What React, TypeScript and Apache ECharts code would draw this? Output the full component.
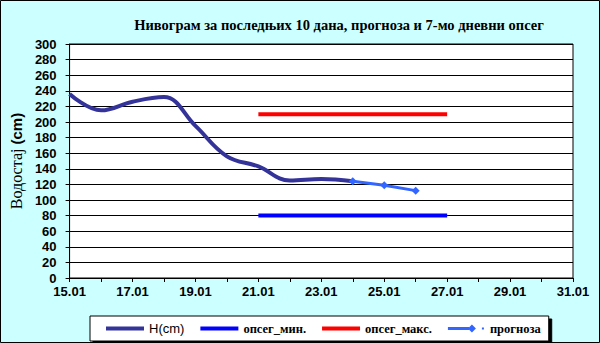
import React, { useEffect, useRef } from "react";
import * as echarts from "echarts";

const dayLabels = ["15.01", "16.01", "17.01", "18.01", "19.01", "20.01", "21.01", "22.01", "23.01", "24.01", "25.01", "26.01", "27.01", "28.01", "29.01", "30.01", "31.01"];
const levelDays = [0, 1, 2, 3, 4, 5, 6, 7, 8, 9];
const levelValues = [236, 215, 226, 232, 195, 156, 143, 125, 127, 124];
const rangeDays = [6, 12];
const rangeMin = [80, 80];
const rangeMax = [210, 210];
const forecastDays = [9, 10, 11];
const forecastValues = [124, 119, 112];

const serif = "'Liberation Serif', 'Times New Roman', serif";
const sans = "'Liberation Sans', Arial, sans-serif";

const lineIcon = "path://M0,2h36v4h-36z";
const forecastIcon = "path://M0,2.5h21v3h-21zM24,0L28,4L24,8L20,4ZM34,3h2v2h-2z";

export default function App() {
  const ref = useRef<HTMLDivElement>(null);
  useEffect(() => {
    if (!ref.current) return;
    const chart = echarts.init(ref.current, null, { renderer: "svg" });
    chart.setOption({
      animation: false,
      backgroundColor: "#CCFFFF",
      title: {
        text: "Нивограм за последњих 10 дана, прогноза и 7-мо дневни опсег",
        left: 334,
        top: 12,
        textAlign: "center",
        textStyle: { fontFamily: serif, fontSize: 14.5, fontWeight: "bold", color: "#000" },
      },
      graphic: [
        {
          type: "rect",
          shape: { x: 0.5, y: 0.5, width: 599, height: 342 },
          style: { fill: "none", stroke: "#000", lineWidth: 1 },
          silent: true,
          z: 100,
        },
      ],
      legend: {
        left: 90,
        top: 316,
        width: 460,
        itemGap: 16,
        itemWidth: 38,
        itemHeight: 8,
        padding: [6, 8, 6, 16],
        backgroundColor: "#fff",
        borderColor: "#000",
        borderWidth: 1,
        borderRadius: 0,
        shadowColor: "#000",
        shadowOffsetX: 3,
        shadowOffsetY: 3,
        shadowBlur: 0,
        data: [
          { name: "H(cm)", icon: lineIcon },
          { name: "опсег_мин.", icon: lineIcon },
          { name: "опсег_макс.", icon: lineIcon },
          { name: "прогноза", icon: forecastIcon },
        ],
        formatter: (name: string) => (name === "H(cm)" ? `{s|${name}}` : `{t|${name}}`),
        textStyle: {
          color: "#000",
          rich: {
            s: { fontFamily: sans, fontSize: 13, color: "#000" },
            t: { fontFamily: serif, fontSize: 12.5, fontWeight: "bold", color: "#000" },
          },
        },
      },
      grid: { left: 67, right: 27, top: 44, bottom: 65, show: true, borderColor: "#000", borderWidth: 1, backgroundColor: "#fff" },
      xAxis: {
        type: "value",
        min: 0,
        max: 16,
        interval: 1,
        axisLine: { show: true, lineStyle: { color: "#000", width: 1 } },
        axisTick: { show: true, length: 4, lineStyle: { color: "#000" } },
        splitLine: { show: false },
        axisLabel: {
          margin: 7,
          color: "#000",
          fontFamily: sans,
          fontSize: 13,
          fontWeight: "bold",
          formatter: (v: number) => (v % 2 === 0 ? dayLabels[v] : ""),
        },
      },
      yAxis: {
        type: "value",
        min: 0,
        max: 300,
        interval: 20,
        name: "{a|Водостај }{b|(cm)}",
        nameLocation: "middle",
        nameGap: 41,
        nameRotate: 90,
        nameTextStyle: {
          rich: {
            a: { fontFamily: serif, fontSize: 16, color: "#000" },
            b: { fontFamily: sans, fontSize: 15, fontWeight: "bold", color: "#000" },
          },
        },
        axisLine: { show: true, lineStyle: { color: "#000", width: 1 } },
        axisTick: { show: true, length: 4, lineStyle: { color: "#000" } },
        splitLine: { show: true, lineStyle: { color: "#000", width: 1 } },
        axisLabel: { margin: 13, color: "#000", fontFamily: sans, fontSize: 13, fontWeight: "bold" },
      },
      series: [
        {
          name: "H(cm)",
          type: "line",
          smooth: 0.4,
          showSymbol: false,
          symbol: "none",
          data: levelDays.map((d, i) => [d, levelValues[i]]),
          lineStyle: { color: "#333399", width: 4 },
          itemStyle: { color: "#333399" },
          z: 3,
        },
        {
          name: "опсег_мин.",
          type: "line",
          symbol: "none",
          data: rangeDays.map((d, i) => [d, rangeMin[i]]),
          lineStyle: { color: "#0000FF", width: 4 },
          itemStyle: { color: "#0000FF" },
          z: 2,
        },
        {
          name: "опсег_макс.",
          type: "line",
          symbol: "none",
          data: rangeDays.map((d, i) => [d, rangeMax[i]]),
          lineStyle: { color: "#FF0000", width: 4 },
          itemStyle: { color: "#FF0000" },
          z: 2,
        },
        {
          name: "прогноза",
          type: "line",
          symbol: "diamond",
          symbolSize: 8,
          data: forecastDays.map((d, i) => [d, forecastValues[i]]),
          lineStyle: { color: "#3366FF", width: 3 },
          itemStyle: { color: "#3366FF" },
          z: 4,
        },
      ],
    });
    return () => chart.dispose();
  }, []);
  return <div ref={ref} style={{ position: "fixed", left: 0, top: 0, width: 600, height: 343 }} />;
}
